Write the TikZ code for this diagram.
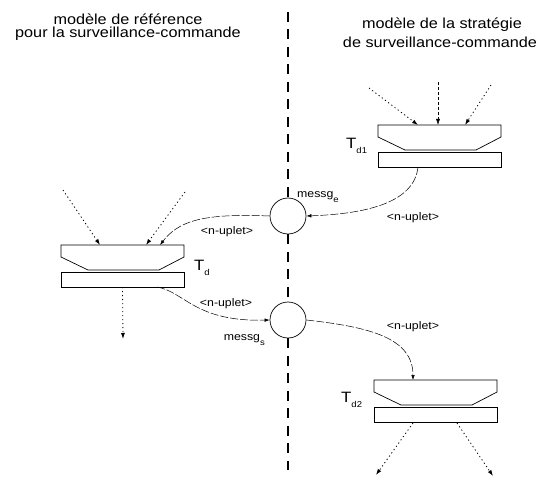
\documentclass[tikz,border=0pt]{standalone}
\usepackage{fontspec}
\setmainfont{Liberation Sans}
\newfontfamily\scanfont[FakeStretch=1.12]{Liberation Sans}
\usetikzlibrary{arrows.meta}
\tikzset{
  trans/.style={draw, line width=0.7pt},
  bar/.style={draw, line width=0.7pt, minimum width=123pt, minimum height=15pt, inner sep=0pt, outer sep=0pt},
  place/.style={draw, circle, line width=0.7pt, minimum size=36pt, inner sep=0pt, fill=white},
  sepline/.style={line width=2.6pt, dash pattern=on 10pt off 7.5pt},
  flow/.style={line width=0.5pt, dash pattern=on 8pt off 2pt, -{Latex[length=5pt,width=3.5pt]}},
  ext/.style={line width=0.8pt, dash pattern=on 1.2pt off 2.8pt, -{Latex[length=6pt,width=4pt]}},
  extdash/.style={line width=0.5pt, dash pattern=on 3pt off 2pt, -{Latex[length=6pt,width=4pt]}},
  lbl/.style={font=\scanfont\fontsize{11}{12}\selectfont, inner sep=1pt},
  tlbl/.style={font=\scanfont\fontsize{15}{16}\selectfont, inner sep=0pt},
  titletext/.style={font=\scanfont\fontsize{14.5}{16}\selectfont, align=center, inner sep=0pt},
}
\newcommand\lowsub[1]{\raisebox{-4.5pt}{\fontsize{8.5}{9}\selectfont #1}}
\newcommand\mytrans[3]{%
  \draw[trans] (#2,#3) -- ++(123,0) -- ++(0,12) -- ++(-25,13) -- ++(-71,0) -- ++(-27,-13) -- cycle;
  \node[bar, anchor=north west] (#1) at (#2,#3+27) {};
}
\begin{document}
\begin{tikzpicture}[x=1pt,y=-1pt]
\useasboundingbox (0,0) rectangle (540,478);

% titles
\node[titletext] (tl1) at (128,19) {modèle de référence};
\node[titletext] (tl2) at (128,34) {pour la surveillance-commande};
\node[titletext] (tr1) at (442,25) {modèle de la stratégie};
\node[titletext] (tr2) at (440,42) {de surveillance-commande};

% places
\node[place] (me) at (288,216) {};
\node[place] (ms) at (288,320) {};
\node[lbl, anchor=west] (lme) at (296,197) {messg\lowsub{e}};
\node[lbl, anchor=east] (lms) at (266,340) {messg\lowsub{s}};

% separator
\coordinate (sepT) at (288,12);
\coordinate (sepB) at (288,470);
\draw[sepline] (sepT) -- (me.north);
\draw[sepline] (me.south) -- (ms.north);
\draw[sepline] (ms.south) -- (sepB);

% transitions
\mytrans{td}{61}{245}
\mytrans{tda}{378}{125}
\mytrans{tdb}{374}{380}
\node[tlbl, anchor=west] (ltd) at (194,268) {T\lowsub{d}};
\node[tlbl, anchor=west] (ltda) at (346,146) {T\lowsub{d1}};
\node[tlbl, anchor=west] (ltdb) at (341,400) {T\lowsub{d2}};

% Td inputs / output
\coordinate (a1) at (63,190);   \coordinate (td1) at (100,245);
\coordinate (a2) at (185,192);  \coordinate (td2) at (146,245);
\coordinate (td3) at (160,245);
\coordinate (tdo) at (157,287);
\coordinate (a3) at (123,339);
\draw[ext] (a1) -- (td1);
\draw[ext] (a2) -- (td2);
\draw[ext] (td.south) -- (a3);

% Td1 inputs
\coordinate (b1) at (369,88);  \coordinate (tda1) at (418,125);
\coordinate (b2) at (438,82);  \coordinate (tda2) at (438,125);
\coordinate (b3) at (491,85);  \coordinate (tda3) at (465,125);
\coordinate (tdao) at (418,167);
\draw[ext] (b1) -- (tda1);
\draw[extdash] (b2) -- (tda2);
\draw[ext] (b3) -- (tda3);

% Td2 outputs
\coordinate (tdbi) at (413,380);
\coordinate (tdbo1) at (413,423); \coordinate (c1) at (376,475);
\coordinate (tdbo2) at (457,423); \coordinate (c2) at (493,476);
\draw[ext] (tdbo1) -- (c1);
\draw[ext] (tdbo2) -- (c2);

% message flows
\draw[flow] (me.west) .. controls (200,213) and (178,222) .. (td3);
\draw[flow] (tdo) .. controls (185,292) and (195,322) .. (ms.west);
\draw[flow] (tdao) .. controls (414,205) and (360,214) .. (me.east);
\draw[flow] (ms.east) .. controls (370,327) and (413,338) .. (tdbi);

% labels
\node[lbl] (n1) at (227,232) {<n-uplet>};
\node[lbl] (n2) at (226,304) {<n-uplet>};
\node[lbl] (n3) at (413,218) {<n-uplet>};
\node[lbl] (n4) at (413,327) {<n-uplet>};
\end{tikzpicture}
\end{document}
